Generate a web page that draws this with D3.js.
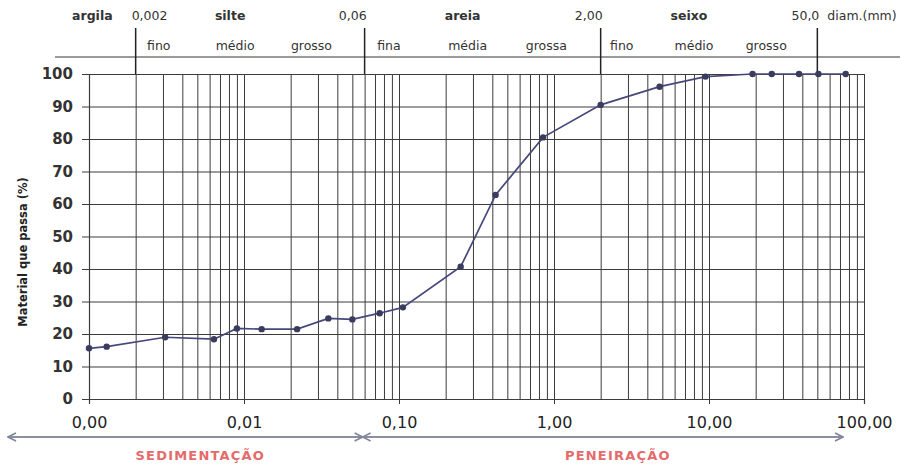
<!DOCTYPE html>
<html>
<head>
<meta charset="utf-8">
<script src="https://cdn.jsdelivr.net/npm/d3@7"></script>
<style>
  html, body { margin: 0; padding: 0; background: #fff; }
  svg { display: block; }
</style>
</head>
<body>
<svg id="chart" width="913" height="472"></svg>
<script>
// Grain-size distribution (curva granulométrica)
const diameters = [0.001, 0.0013, 0.0031, 0.0064, 0.009, 0.013, 0.022, 0.035, 0.05, 0.075, 0.106,
                   0.25, 0.42, 0.85, 2.0, 4.8, 9.5, 19.1, 25.4, 38.1, 50.8, 76.2];
const passing   = [15.6, 16.1, 19.0, 18.4, 21.7, 21.5, 21.5, 24.8, 24.5, 26.4, 28.2,
                   40.7, 62.8, 80.5, 90.5, 96.1, 99.2, 100, 100, 100, 100, 100];

const xTickValues = [0.001, 0.01, 0.1, 1, 10, 100];
const xTickLabels = ["0,00", "0,01", "0,10", "1,00", "10,00", "100,00"];
const yTickValues = [0, 10, 20, 30, 40, 50, 60, 70, 80, 90, 100];

// Soil fractions shown in the header band
const fractionNames  = ["argila", "silte", "areia", "seixo"];
const fractionLimits = [0.001, 0.002, 0.06, 2, 50];
const boundaryLabels = ["0,002", "0,06", "2,00", "50,0"];
const subLabels = [[], ["fino", "médio", "grosso"], ["fina", "média", "grossa"], ["fino", "médio", "grosso"]];
const unitLabel = "diam.(mm)";
const yTitle = "Material que passa (%)";
const methodLabels = ["SEDIMENTAÇÃO", "PENEIRAÇÃO"];
const methodSplit = 0.06;

const svg = d3.select("#chart");
const plotL = 89, plotR = 864, plotT = 74, plotB = 399;

const x = d3.scaleLog().domain([0.001, 100]).range([plotL, plotR]);
const y = d3.scaleLinear().domain([0, 100]).range([plotB, plotT]);

const font = "'DejaVu Sans', Verdana, sans-serif";
const gridColor = "#3c3c3c";

// vertical log grid
const gridV = svg.append("g")
  .attr("transform", `translate(0,${plotB})`)
  .call(d3.axisBottom(x).tickValues(x.ticks()).tickSize(-(plotB - plotT)).tickFormat(""));
gridV.select(".domain").remove();
gridV.selectAll("line").attr("stroke", gridColor).attr("stroke-width", 1);

// horizontal grid with outward ticks
const gridH = svg.append("g")
  .attr("transform", `translate(${plotR},0)`)
  .call(d3.axisLeft(y).tickValues(yTickValues).tickSize(plotR - plotL + 7).tickFormat(""));
gridH.select(".domain").remove();
gridH.selectAll("line").attr("stroke", gridColor).attr("stroke-width", 1.2);

// y labels
const yAxis = svg.append("g")
  .attr("transform", `translate(${plotL},0)`)
  .call(d3.axisLeft(y).tickValues(yTickValues).tickSize(0).tickPadding(16));
yAxis.select(".domain").attr("stroke", gridColor).attr("stroke-width", 1.2);
yAxis.selectAll("text")
  .attr("font-family", font).attr("font-size", 15).attr("font-weight", "bold").attr("fill", "#333");

// x labels with decade ticks
const xAxis = svg.append("g")
  .attr("transform", `translate(0,${plotB})`)
  .call(d3.axisBottom(x).tickValues(xTickValues).tickSize(5).tickPadding(13)
        .tickFormat((d, i) => xTickLabels[i]));
xAxis.select(".domain").attr("stroke", gridColor).attr("stroke-width", 1.2);
xAxis.selectAll("line").attr("stroke", gridColor);
xAxis.selectAll("text")
  .attr("font-family", font).attr("font-size", 16).attr("fill", "#222");

// y title
svg.append("text")
  .attr("transform", `translate(27,252) rotate(-90)`)
  .attr("text-anchor", "middle")
  .attr("font-family", font).attr("font-size", 11.5).attr("font-weight", "bold").attr("fill", "#222")
  .text(yTitle);

// header band
const header = svg.append("g").attr("font-family", font).attr("font-size", 12.5).attr("fill", "#333");
header.append("line")
  .attr("x1", 55).attr("x2", 900).attr("y1", 57).attr("y2", 57)
  .attr("stroke", "#9a9a9a").attr("stroke-width", 2);

fractionLimits.slice(1).forEach((v, i) => {
  header.append("line")
    .attr("x1", x(v)).attr("x2", x(v)).attr("y1", 28).attr("y2", plotT)
    .attr("stroke", "#222").attr("stroke-width", 1.5);
  // the first limit label sits to the right of its divider, clear of "argila"
  const first = i === 0;
  header.append("text")
    .attr("x", first ? x(v) - 4 : x(v) + 2).attr("y", 20)
    .attr("text-anchor", first ? "start" : "end")
    .text(boundaryLabels[i]);
});

fractionNames.forEach((name, i) => {
  const a = x(fractionLimits[i]), b = x(fractionLimits[i + 1]);
  header.append("text")
    .attr("x", (a + b) / 2 - 20).attr("y", 20).attr("text-anchor", "middle")
    .attr("font-weight", "bold")
    .text(name);
  subLabels[i].forEach((s, j) => {
    header.append("text")
      .attr("x", a + (b - a) * (2 * j + 1) / 6 - 15).attr("y", 50).attr("text-anchor", "middle")
      .text(s);
  });
});
header.append("text")
  .attr("x", x(fractionLimits[fractionLimits.length - 1]) + 10).attr("y", 20)
  .text(unitLabel);

// curve
const pts = diameters.map((d, i) => [d, passing[i]]);
svg.append("path")
  .datum(pts)
  .attr("fill", "none")
  .attr("stroke", "#46487a")
  .attr("stroke-width", 1.7)
  .attr("d", d3.line().x(d => x(d[0])).y(d => y(d[1])));
svg.append("g").selectAll("circle")
  .data(pts)
  .join("circle")
  .attr("cx", d => x(d[0])).attr("cy", d => y(d[1])).attr("r", 3.2)
  .attr("fill", "#3a3c5e");

// method arrows
const defs = svg.append("defs");
["start", "end"].forEach(k => {
  defs.append("marker")
    .attr("id", "arrow-" + k)
    .attr("viewBox", "0 0 10 10")
    .attr("refX", k === "end" ? 9 : 1).attr("refY", 5)
    .attr("markerWidth", 5).attr("markerHeight", 5)
    .attr("markerUnits", "strokeWidth")
    .attr("orient", "auto")
    .append("path")
    .attr("d", k === "end" ? "M1,1 L9,5 L1,9" : "M9,1 L1,5 L9,9")
    .attr("fill", "none").attr("stroke", "#7f869a").attr("stroke-width", 1.6);
});
const arrowY = 437;
const spans = [[8, x(methodSplit) - 2], [x(methodSplit) - 2, plotR - 21]];
spans.forEach((s, i) => {
  svg.append("line")
    .attr("x1", s[0]).attr("x2", s[1]).attr("y1", arrowY).attr("y2", arrowY)
    .attr("stroke", "#8a90a2").attr("stroke-width", 2)
    .attr("marker-start", "url(#arrow-start)")
    .attr("marker-end", "url(#arrow-end)");
  svg.append("text")
    .attr("x", (s[0] + s[1]) / 2 + 15).attr("y", 460)
    .attr("text-anchor", "middle")
    .attr("font-family", font).attr("font-size", 13).attr("font-weight", "bold")
    .attr("letter-spacing", 1.2)
    .attr("fill", "#e46b6b")
    .text(methodLabels[i]);
});
</script>
</body>
</html>
